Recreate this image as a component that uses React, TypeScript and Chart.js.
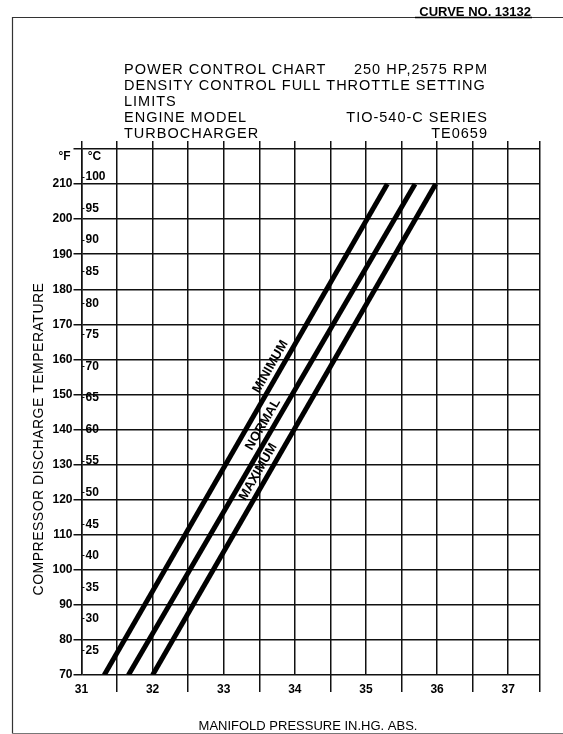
import React, { useEffect, useRef } from "react";
import { Chart, registerables } from "chart.js";

Chart.register(...registerables);

// ---- data ----
const curveNames = ["MINIMUM", "NORMAL", "MAXIMUM"];
const curveTempF = [70, 210];
const minimumMP = [31.32, 35.3];
const normalMP = [31.66, 35.69];
const maximumMP = [32.0, 35.98];
const curveLabelTempF = [156.5, 140, 126.5];

const xTickValues = [31, 31.5, 32, 32.5, 33, 33.5, 34, 34.5, 35, 35.5, 36, 36.5, 37, 37.44];
const fTickValues = [70, 80, 90, 100, 110, 120, 130, 140, 150, 160, 170, 180, 190, 200, 210, 220];
const cTickValues = [25, 30, 35, 40, 45, 50, 55, 60, 65, 70, 75, 80, 85, 90, 95, 100];

const headerLeft = ["POWER CONTROL CHART", "DENSITY CONTROL FULL THROTTLE SETTING", "LIMITS", "ENGINE MODEL", "TURBOCHARGER"];
const headerRight = ["250 HP,2575 RPM", "", "", "TIO-540-C SERIES", "TE0659"];
const curveNumber = "CURVE NO. 13132";
const yTitle = "COMPRESSOR DISCHARGE TEMPERATURE";
const xTitle = "MANIFOLD PRESSURE IN.HG. ABS.";

const FONT = "'Liberation Sans', Arial, Helvetica, sans-serif";
const INK = "#111";

const curves = [minimumMP, normalMP, maximumMP];

const fToC = (f: number) => ((f - 32) * 5) / 9;

const overlayPlugin = {
  id: "overlay",
  afterDraw(chart: any) {
    const ctx = chart.ctx as CanvasRenderingContext2D;
    const { left, top } = chart.chartArea;
    ctx.save();
    // frame
    ctx.strokeStyle = "#333";
    ctx.lineWidth = 1.2;
    ctx.beginPath();
    ctx.moveTo(12.5, 733.5);
    ctx.lineTo(12.5, 17.5);
    ctx.lineTo(563, 17.5);
    ctx.stroke();
    ctx.strokeStyle = "#777";
    ctx.beginPath();
    ctx.moveTo(12.5, 733.5);
    ctx.lineTo(563, 733.5);
    ctx.stroke();

    // curve number (underlined)
    ctx.fillStyle = "#000";
    ctx.font = `bold 13px ${FONT}`;
    ctx.textAlign = "right";
    ctx.textBaseline = "alphabetic";
    ctx.fillText(curveNumber, 531, 16);
    ctx.strokeStyle = "#000";
    ctx.lineWidth = 1.6;
    ctx.beginPath();
    ctx.moveTo(415, 17.5);
    ctx.lineTo(532, 17.5);
    ctx.stroke();

    // header
    ctx.font = `14.5px ${FONT}`;
    (ctx as any).letterSpacing = "1px";
    headerLeft.forEach((t, i) => {
      const y = 74 + i * 16;
      ctx.textAlign = "left";
      ctx.fillText(t, 124, y);
      if (headerRight[i]) {
        ctx.textAlign = "right";
        ctx.fillText(headerRight[i], 488, y);
      }
    });

    // y title
    ctx.font = `14px ${FONT}`;
    (ctx as any).letterSpacing = "0.5px";
    ctx.save();
    ctx.translate(39, 439);
    ctx.rotate(-Math.PI / 2);
    ctx.textAlign = "center";
    ctx.textBaseline = "middle";
    ctx.fillText(yTitle, 0, 0);
    ctx.restore();

    // x title
    (ctx as any).letterSpacing = "0px";
    ctx.font = `13px ${FONT}`;
    ctx.textAlign = "center";
    ctx.textBaseline = "middle";
    ctx.fillText(xTitle, 308, 726);

    // unit heads
    ctx.font = `bold 12px ${FONT}`;
    ctx.textAlign = "center";
    ctx.fillText("°F", left - 17, top + 8);
    ctx.fillText("°C", left + 13, top + 8);

    // curve labels
    const xs = chart.scales.x;
    const ys = chart.scales.y;
    ctx.font = `bold 13px ${FONT}`;
    curves.forEach((mp, i) => {
      const p0x = xs.getPixelForValue(mp[0]);
      const p0y = ys.getPixelForValue(curveTempF[0]);
      const p1x = xs.getPixelForValue(mp[1]);
      const p1y = ys.getPixelForValue(curveTempF[1]);
      const a = Math.atan2(p1y - p0y, p1x - p0x);
      const t = (curveLabelTempF[i] - curveTempF[0]) / (curveTempF[1] - curveTempF[0]);
      const cx = p0x + (p1x - p0x) * t;
      const cy = p0y + (p1y - p0y) * t;
      const nx = Math.sin(a);
      const ny = -Math.cos(a);
      const off = 10;
      ctx.save();
      ctx.translate(cx + nx * off, cy + ny * off);
      ctx.rotate(a);
      ctx.textAlign = "center";
      ctx.textBaseline = "middle";
      ctx.fillText(curveNames[i], 0, 0);
      ctx.restore();
    });
    ctx.restore();
  },
};

export default function App() {
  const ref = useRef<HTMLCanvasElement | null>(null);

  useEffect(() => {
    if (!ref.current) return;
    const tickFont = { family: FONT, size: 12, weight: "bold" as const };
    const chart = new Chart(ref.current, {
      type: "scatter",
      data: {
        datasets: curves.map((mp, i) => ({
          label: curveNames[i],
          data: curveTempF.map((f, j) => ({ x: mp[j], y: f })),
          showLine: true,
          borderColor: "#000",
          backgroundColor: "#000",
          borderWidth: 5,
          pointRadius: 0,
          fill: false,
          xAxisID: "x",
          yAxisID: "y",
        })),
      },
      options: {
        responsive: false,
        animation: false,
        events: [],
        layout: { padding: { left: 11.5, right: 23.5, top: 149, bottom: 9 } },
        plugins: { legend: { display: false }, tooltip: { enabled: false }, title: { display: false } },
        scales: {
          x: {
            type: "linear",
            position: "bottom",
            min: 31,
            max: 37.44,
            afterBuildTicks: (s: any) => {
              s.ticks = xTickValues.map((v) => ({ value: v }));
            },
            afterFit: (s: any) => {
              s.height = 50;
            },
            grid: {
              color: INK,
              lineWidth: 1.5,
              tickLength: 17,
              tickWidth: 1.5,
              tickColor: (c: any) => (c.tick && Number.isInteger(c.tick.value) ? "rgba(0,0,0,0)" : INK),
            },
            border: { display: false },
            ticks: {
              autoSkip: false,
              maxRotation: 0,
              padding: -10,
              color: "#000",
              font: tickFont,
              callback: (v: any) => (Number.isInteger(v) ? String(v) : ""),
            },
          },
          x2: {
            type: "linear",
            position: "top",
            min: 31,
            max: 37.44,
            afterBuildTicks: (s: any) => {
              s.ticks = xTickValues.map((v) => ({ value: v }));
            },
            afterFit: (s: any) => {
              s.height = 0;
            },
            grid: { drawOnChartArea: false, color: INK, lineWidth: 1.5, tickLength: 8 },
            border: { display: false },
            ticks: { display: false },
          },
          y: {
            type: "linear",
            position: "left",
            weight: 1,
            min: 70,
            max: 220,
            afterBuildTicks: (s: any) => {
              s.ticks = fTickValues.map((v) => ({ value: v }));
            },
            afterFit: (s: any) => {
              s.width = 70;
            },
            grid: { color: INK, lineWidth: 1.5, tickLength: 8 },
            border: { display: true, color: INK, width: 1.5 },
            ticks: {
              autoSkip: false,
              padding: 1,
              color: "#000",
              font: tickFont,
              callback: (v: any) => (v === 220 ? "" : String(v)),
            },
          },
          yC: {
            type: "linear",
            position: "left",
            weight: 0,
            min: fToC(70),
            max: fToC(220),
            afterBuildTicks: (s: any) => {
              s.ticks = cTickValues.map((v) => ({ value: v }));
            },
            afterFit: (s: any) => {
              s.width = 0;
            },
            grid: { drawOnChartArea: false, color: INK, lineWidth: 1, tickLength: -3 },
            border: { display: false },
            ticks: {
              autoSkip: false,
              mirror: true,
              padding: 4,
              color: "#000",
              font: tickFont,
              callback: (v: any) => String(v),
            },
          },
        },
      },
      plugins: [overlayPlugin],
    } as any);
    return () => chart.destroy();
  }, []);

  return (
    <div style={{ position: "absolute", left: 0, top: 0, width: 563, height: 734, background: "#fff" }}>
      <canvas ref={ref} width={563} height={734} style={{ display: "block" }} />
    </div>
  );
}
